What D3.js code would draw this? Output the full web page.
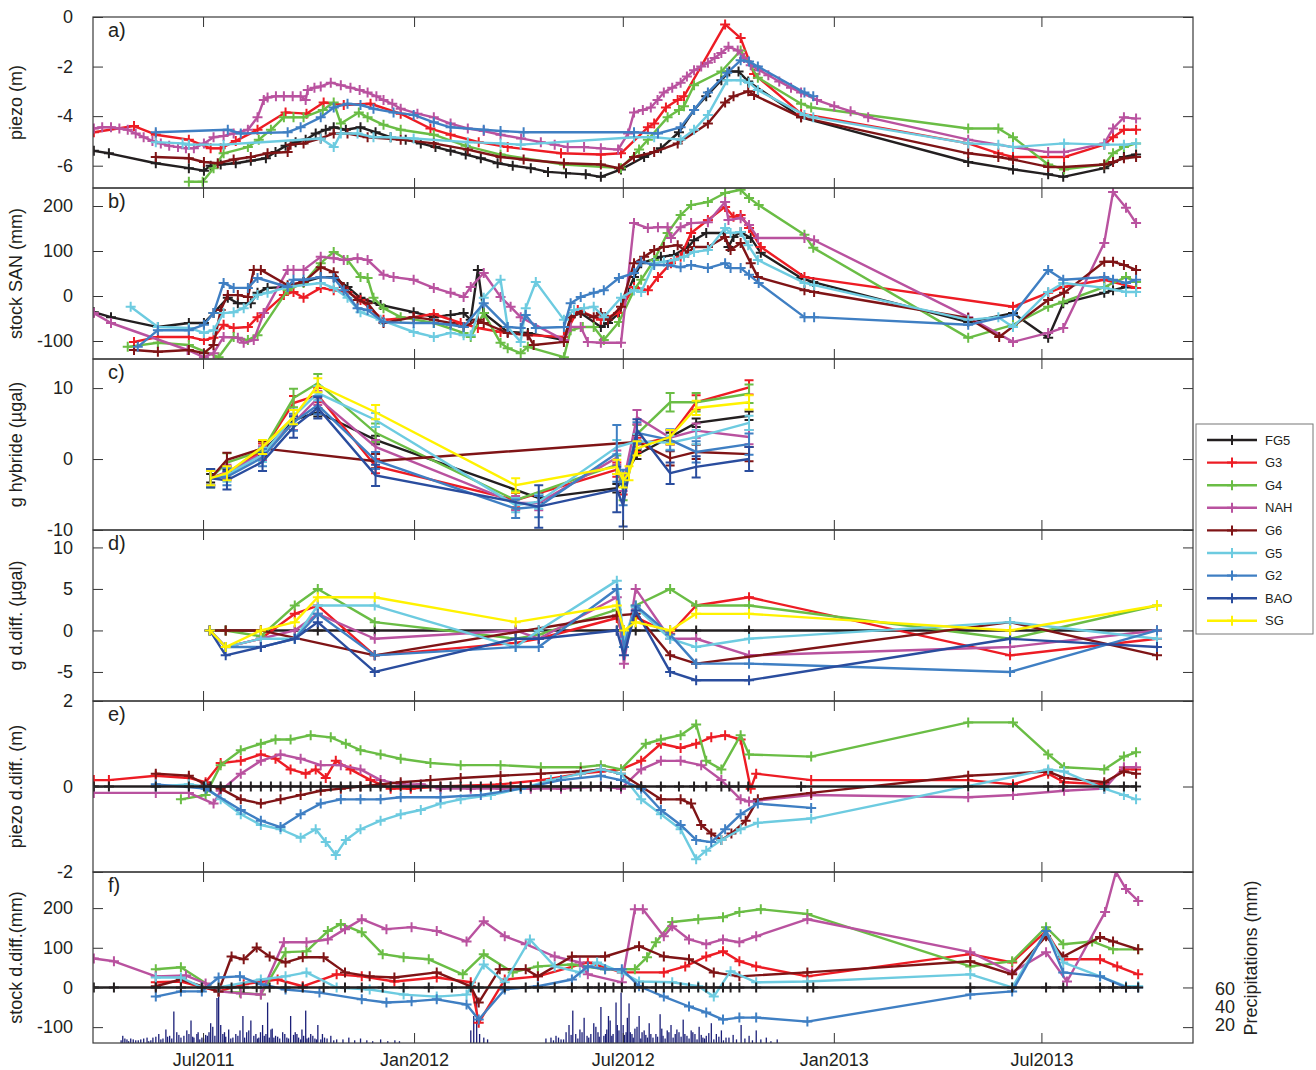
<!DOCTYPE html>
<html><head><meta charset="utf-8">
<script src="https://cdn.jsdelivr.net/npm/d3@7"></script>
<style>
body{margin:0;background:#fff}
text{font-family:"Liberation Sans",Arial,Helvetica,sans-serif;fill:#231f20}
</style>
</head><body>
<svg id="chart" width="1316" height="1070"></svg>
<script>
// ---------- series identity ----------
const SERIES = ["FG5","G3","G4","NAH","G6","G5","G2","BAO","SG"];
const COLORS = ["#231f20","#ed1c24","#6abd45","#b9529f","#7f1416","#6dcbe0","#3f7fc3","#2a4d9e","#fff200"];
const xTickLabels = ["Jul2011","Jan2012","Jul2012","Jan2013","Jul2013"];

// ---------- a) piezo (m) : [decimal year, value] ----------
const aFG5 = [[2011.235,-5.4],[2011.271,-5.5],[2011.383,-5.9],[2011.462,-6.1],[2011.498,-6.2],[2011.514,-6.0],[2011.538,-5.95],[2011.574,-5.9],[2011.610,-5.8],[2011.646,-5.7],[2011.669,-5.45],[2011.693,-5.2],[2011.717,-5.05],[2011.741,-4.95],[2011.765,-4.7],[2011.789,-4.55],[2011.808,-4.45],[2011.837,-4.55],[2011.872,-4.45],[2011.908,-4.65],[2011.944,-4.85],[2011.980,-4.95],[2012.016,-5.1],[2012.051,-5.25],[2012.087,-5.4],[2012.123,-5.55],[2012.159,-5.7],[2012.199,-5.9],[2012.235,-6.0],[2012.278,-6.1],[2012.319,-6.25],[2012.362,-6.3],[2012.409,-6.35],[2012.445,-6.45],[2012.493,-6.15],[2012.548,-5.65],[2012.588,-5.3],[2012.631,-4.65],[2012.667,-3.75],[2012.696,-3.2],[2012.732,-2.55],[2012.751,-2.2],[2012.773,-2.2],[2012.796,-2.6],[2012.922,-4.05],[2013.321,-5.85],[2013.428,-6.15],[2013.512,-6.35],[2013.548,-6.45],[2013.646,-6.1],[2013.693,-5.65],[2013.722,-5.55]];
const aG3 = [[2011.235,-4.65],[2011.331,-4.4],[2011.383,-4.75],[2011.462,-4.95],[2011.514,-5.3],[2011.538,-5.3],[2011.574,-5.0],[2011.626,-4.55],[2011.693,-3.85],[2011.743,-3.9],[2011.784,-3.45],[2011.832,-3.55],[2011.896,-3.5],[2011.968,-3.9],[2012.039,-4.5],[2012.087,-4.75],[2012.154,-5.05],[2012.223,-5.25],[2012.350,-5.5],[2012.445,-5.55],[2012.493,-5.5],[2012.557,-4.45],[2012.572,-4.3],[2012.600,-3.65],[2012.628,-3.35],[2012.643,-3.2],[2012.741,-0.3],[2012.778,-0.85],[2012.810,-2.3],[2012.922,-3.9],[2013.321,-5.1],[2013.393,-5.5],[2013.428,-5.65],[2013.550,-5.65],[2013.646,-5.15],[2013.667,-4.85],[2013.693,-4.55],[2013.722,-4.55]];
const aG4 = [[2011.462,-6.65],[2011.495,-6.65],[2011.521,-6.1],[2011.545,-5.5],[2011.603,-5.25],[2011.629,-4.95],[2011.658,-4.55],[2011.689,-4.05],[2011.712,-4.05],[2011.736,-4.05],[2011.782,-3.75],[2011.808,-3.45],[2011.825,-4.3],[2011.868,-3.85],[2011.889,-4.05],[2011.927,-4.35],[2011.968,-4.55],[2012.047,-4.75],[2012.123,-5.2],[2012.206,-5.55],[2012.357,-5.95],[2012.493,-6.1],[2012.536,-5.35],[2012.557,-4.95],[2012.604,-4.05],[2012.631,-3.75],[2012.643,-3.6],[2012.667,-2.75],[2012.732,-2.2],[2012.778,-1.35],[2012.819,-2.45],[2012.922,-3.5],[2012.946,-3.65],[2013.321,-4.5],[2013.393,-4.5],[2013.428,-4.85],[2013.512,-5.95],[2013.550,-6.15],[2013.646,-5.95],[2013.667,-5.5],[2013.693,-5.25],[2013.722,-5.1]];
const aNAH = [[2011.235,-4.5],[2011.255,-4.45],[2011.276,-4.45],[2011.296,-4.5],[2011.316,-4.55],[2011.335,-4.7],[2011.354,-4.85],[2011.375,-5.0],[2011.395,-5.1],[2011.415,-5.2],[2011.436,-5.25],[2011.455,-5.3],[2011.474,-5.3],[2011.498,-5.1],[2011.521,-4.85],[2011.545,-4.8],[2011.569,-4.7],[2011.603,-4.55],[2011.626,-4.05],[2011.641,-3.35],[2011.650,-3.25],[2011.670,-3.2],[2011.689,-3.2],[2011.710,-3.2],[2011.729,-3.2],[2011.741,-3.35],[2011.746,-2.95],[2011.762,-2.85],[2011.777,-2.8],[2011.801,-2.65],[2011.825,-2.75],[2011.848,-2.85],[2011.870,-2.95],[2011.889,-3.05],[2011.910,-3.2],[2011.927,-3.35],[2011.948,-3.5],[2011.968,-3.7],[2012.008,-3.9],[2012.047,-4.05],[2012.087,-4.3],[2012.128,-4.5],[2012.166,-4.6],[2012.206,-4.75],[2012.255,-4.9],[2012.302,-5.05],[2012.335,-5.15],[2012.366,-5.25],[2012.405,-5.25],[2012.445,-5.3],[2012.486,-5.35],[2012.510,-4.7],[2012.524,-3.85],[2012.545,-3.75],[2012.564,-3.65],[2012.580,-3.35],[2012.595,-3.05],[2012.615,-2.85],[2012.635,-2.65],[2012.650,-2.4],[2012.667,-2.15],[2012.684,-2.0],[2012.700,-1.85],[2012.716,-1.65],[2012.732,-1.45],[2012.749,-1.2],[2012.771,-1.35],[2012.786,-1.65],[2012.802,-1.95],[2012.823,-2.15],[2012.844,-2.35],[2012.870,-2.6],[2012.898,-2.85],[2012.922,-3.05],[2012.960,-3.35],[2013.001,-3.6],[2013.040,-3.8],[2013.082,-4.05],[2013.321,-4.95],[2013.428,-5.25],[2013.512,-5.45],[2013.550,-5.45],[2013.646,-5.1],[2013.667,-4.5],[2013.693,-4.05],[2013.722,-4.1]];
const aG6 = [[2011.383,-5.65],[2011.462,-5.7],[2011.498,-5.85],[2011.531,-5.9],[2011.569,-5.75],[2011.610,-5.65],[2011.650,-5.5],[2011.698,-5.45],[2011.705,-5.15],[2011.736,-5.1],[2011.777,-4.9],[2011.808,-4.7],[2011.841,-4.7],[2011.889,-4.85],[2011.968,-4.95],[2012.047,-5.1],[2012.128,-5.35],[2012.206,-5.65],[2012.261,-5.75],[2012.357,-5.9],[2012.445,-5.95],[2012.488,-6.1],[2012.524,-5.65],[2012.572,-5.45],[2012.628,-5.1],[2012.700,-4.3],[2012.741,-3.45],[2012.761,-3.2],[2012.796,-3.0],[2012.810,-3.15],[2012.922,-4.05],[2013.321,-5.5],[2013.393,-5.65],[2013.428,-5.75],[2013.512,-6.05],[2013.550,-6.05],[2013.646,-5.95],[2013.667,-5.85],[2013.693,-5.7],[2013.722,-5.65]];
const aG5 = [[2011.383,-5.05],[2011.447,-5.1],[2011.462,-5.15],[2011.545,-5.15],[2011.777,-4.9],[2011.808,-5.25],[2011.825,-4.7],[2011.865,-4.7],[2011.903,-4.85],[2011.944,-4.85],[2011.999,-4.9],[2012.128,-5.05],[2012.206,-5.1],[2012.254,-5.15],[2012.524,-4.85],[2012.572,-4.85],[2012.635,-4.95],[2012.667,-4.55],[2012.700,-3.95],[2012.746,-2.55],[2012.778,-2.55],[2012.798,-2.65],[2012.819,-2.95],[2012.930,-3.95],[2012.951,-4.05],[2013.321,-5.1],[2013.393,-5.15],[2013.428,-5.25],[2013.550,-5.1],[2013.646,-5.15],[2013.693,-5.15],[2013.722,-5.1]];
const aG2 = [[2011.383,-4.65],[2011.555,-4.55],[2011.586,-4.7],[2011.698,-4.65],[2011.729,-4.45],[2011.777,-4.05],[2011.808,-3.65],[2011.841,-3.5],[2011.872,-3.55],[2011.903,-3.7],[2011.951,-3.85],[2011.999,-3.95],[2012.047,-4.25],[2012.087,-4.45],[2012.166,-4.55],[2012.206,-4.6],[2012.261,-4.65],[2012.524,-4.65],[2012.581,-4.7],[2012.635,-4.45],[2012.667,-3.75],[2012.700,-3.05],[2012.746,-2.25],[2012.778,-1.75],[2012.798,-1.8],[2012.819,-2.0],[2012.930,-3.05],[2012.951,-3.2]];

// ---------- b) stock SAN (mm) ----------
const bFG5 = [[2011.235,-36],[2011.276,-47],[2011.388,-69],[2011.462,-60],[2011.498,-60],[2011.521,-38],[2011.555,-4],[2011.579,-16],[2011.610,-16],[2011.626,7],[2011.650,18],[2011.698,20],[2011.736,31],[2011.777,42],[2011.808,42],[2011.841,20],[2011.872,-4],[2011.920,-20],[2011.999,-36],[2012.047,-47],[2012.087,-42],[2012.118,-38],[2012.135,-53],[2012.152,58],[2012.166,-38],[2012.223,-80],[2012.271,-82],[2012.357,-98],[2012.373,-47],[2012.397,-38],[2012.445,-69],[2012.462,-60],[2012.488,-38],[2012.524,42],[2012.541,73],[2012.588,87],[2012.619,91],[2012.653,109],[2012.667,124],[2012.696,140],[2012.738,140],[2012.749,109],[2012.761,131],[2012.778,142],[2012.802,129],[2012.826,96],[2012.922,40],[2012.951,31],[2013.321,-58],[2013.428,-38],[2013.512,-93],[2013.548,-16],[2013.646,7],[2013.667,13],[2013.698,20],[2013.722,18]];
const bG3 = [[2011.331,-102],[2011.388,-91],[2011.462,-91],[2011.498,-98],[2011.521,-93],[2011.545,-64],[2011.569,-71],[2011.603,-69],[2011.626,-47],[2011.641,-38],[2011.689,2],[2011.712,9],[2011.736,-4],[2011.777,18],[2011.808,13],[2011.841,9],[2011.872,-9],[2011.927,-53],[2011.999,-47],[2012.047,-40],[2012.111,-60],[2012.152,-71],[2012.206,-80],[2012.271,-87],[2012.357,-91],[2012.390,-31],[2012.445,-53],[2012.486,-38],[2012.524,20],[2012.557,13],[2012.581,42],[2012.612,73],[2012.635,87],[2012.660,140],[2012.700,169],[2012.741,198],[2012.761,176],[2012.778,180],[2012.798,151],[2012.826,109],[2012.930,42],[2013.428,-24],[2013.512,7],[2013.548,20],[2013.646,36],[2013.722,18]];
const bG4 = [[2011.316,-113],[2011.388,-104],[2011.462,-109],[2011.533,-136],[2011.569,-91],[2011.603,-98],[2011.626,-87],[2011.698,13],[2011.736,29],[2011.777,73],[2011.808,98],[2011.841,80],[2011.872,42],[2011.889,40],[2011.903,-4],[2011.927,-27],[2011.968,-47],[2012.047,-60],[2012.118,-82],[2012.135,-91],[2012.166,-38],[2012.206,-104],[2012.223,-116],[2012.254,-127],[2012.271,-113],[2012.357,-136],[2012.373,-76],[2012.402,-69],[2012.428,-69],[2012.452,-98],[2012.488,-58],[2012.524,13],[2012.541,36],[2012.572,80],[2012.604,140],[2012.635,180],[2012.660,202],[2012.700,209],[2012.741,229],[2012.778,236],[2012.798,218],[2012.821,202],[2012.930,136],[2012.951,107],[2013.321,-93],[2013.428,-64],[2013.512,-24],[2013.548,-13],[2013.646,20],[2013.698,42],[2013.722,31]];
const bNAH = [[2011.235,-38],[2011.276,-60],[2011.459,-120],[2011.498,-136],[2011.521,-127],[2011.545,-91],[2011.579,-93],[2011.593,-104],[2011.617,-98],[2011.641,-38],[2011.698,58],[2011.712,58],[2011.736,58],[2011.777,87],[2011.808,84],[2011.832,80],[2011.865,84],[2011.889,80],[2011.927,47],[2011.951,42],[2011.999,36],[2012.047,18],[2012.087,7],[2012.118,-2],[2012.135,20],[2012.166,51],[2012.206,-2],[2012.230,-24],[2012.254,-47],[2012.357,-98],[2012.373,-69],[2012.397,-69],[2012.414,-102],[2012.445,-104],[2012.493,-104],[2012.524,162],[2012.557,151],[2012.581,153],[2012.604,153],[2012.612,129],[2012.635,153],[2012.660,162],[2012.700,164],[2012.741,209],[2012.749,169],[2012.778,173],[2012.798,158],[2012.819,129],[2012.930,129],[2012.953,124],[2013.321,-47],[2013.428,-102],[2013.512,-82],[2013.548,-71],[2013.646,118],[2013.667,231],[2013.698,196],[2013.722,162]];
const bG6 = [[2011.331,-120],[2011.388,-124],[2011.462,-120],[2011.498,-127],[2011.521,-109],[2011.538,-31],[2011.555,2],[2011.579,2],[2011.603,-2],[2011.617,58],[2011.634,58],[2011.698,24],[2011.736,31],[2011.777,64],[2011.808,53],[2011.832,20],[2011.865,-9],[2011.889,-16],[2011.927,-60],[2011.999,-47],[2012.047,-53],[2012.087,-60],[2012.118,-69],[2012.152,-53],[2012.166,-60],[2012.223,-82],[2012.271,-87],[2012.285,-109],[2012.357,-102],[2012.373,-47],[2012.397,-36],[2012.428,-47],[2012.445,-38],[2012.462,-53],[2012.493,-24],[2012.524,73],[2012.548,87],[2012.572,102],[2012.595,109],[2012.628,113],[2012.653,96],[2012.667,109],[2012.700,109],[2012.741,131],[2012.754,102],[2012.778,118],[2012.802,73],[2012.819,42],[2012.930,13],[2012.953,9],[2013.321,-49],[2013.395,-91],[2013.512,-9],[2013.550,7],[2013.646,76],[2013.667,76],[2013.693,69],[2013.722,58]];
const bG5 = [[2011.323,-24],[2011.388,-69],[2011.462,-71],[2011.498,-82],[2011.521,-76],[2011.545,-38],[2011.569,-36],[2011.593,-27],[2011.626,2],[2011.650,7],[2011.698,20],[2011.777,29],[2011.808,18],[2011.841,-4],[2011.872,-36],[2011.920,-53],[2011.999,-80],[2012.047,-91],[2012.087,-82],[2012.118,-87],[2012.135,-87],[2012.166,-4],[2012.206,36],[2012.223,-69],[2012.254,-102],[2012.266,-27],[2012.290,31],[2012.357,-53],[2012.381,-31],[2012.405,-27],[2012.428,-24],[2012.452,-47],[2012.493,-4],[2012.524,13],[2012.541,9],[2012.572,73],[2012.595,76],[2012.619,80],[2012.643,87],[2012.667,98],[2012.700,102],[2012.741,151],[2012.754,140],[2012.778,142],[2012.796,113],[2012.819,80],[2012.930,29],[2012.953,24],[2013.321,-53],[2013.393,-47],[2013.428,-69],[2013.512,9],[2013.548,29],[2013.646,18],[2013.698,9],[2013.722,9]];
const bG2 = [[2011.340,-113],[2011.388,-76],[2011.462,-76],[2011.498,-64],[2011.521,-38],[2011.545,29],[2011.569,18],[2011.603,18],[2011.626,40],[2011.698,20],[2011.712,36],[2011.736,36],[2011.777,42],[2011.808,40],[2011.832,13],[2011.865,-27],[2011.889,-31],[2011.927,-58],[2011.999,-60],[2012.047,-60],[2012.087,-64],[2012.118,-69],[2012.166,-16],[2012.223,-69],[2012.254,-71],[2012.266,-42],[2012.290,-71],[2012.357,-69],[2012.373,-16],[2012.397,-2],[2012.428,7],[2012.452,13],[2012.488,40],[2012.524,51],[2012.541,76],[2012.572,69],[2012.604,69],[2012.635,64],[2012.660,69],[2012.700,62],[2012.741,73],[2012.754,62],[2012.778,62],[2012.798,47],[2012.821,29],[2012.930,-47],[2012.953,-47],[2013.321,-64],[2013.428,-42],[2013.512,58],[2013.548,36],[2013.646,42],[2013.667,36],[2013.698,29],[2013.722,36]];

// ---------- c) g hybride (µgal) : campaign dates + values per series ----------
const cDates = [2011.514,2011.553,2011.638,2011.712,2011.770,2011.908,2012.242,2012.297,2012.483,2012.498,2012.512,2012.531,2012.610,2012.672,2012.798];
const cFG5 = [-2.7,-2.0,1.0,5.5,6.6,2.7,null,-5.5,-4.1,null,null,0.6,3.1,5.1,6.1];
const cG3  = [-2.7,-2.0,1.2,7.9,9.0,-1.0,-5.8,null,-1.5,-4.0,null,2.0,3.1,8.0,10.1];
const cG4  = [-2.7,-0.5,1.2,8.6,10.7,3.7,-5.8,null,-0.8,-4.5,null,3.5,8.0,8.0,9.2];
const cNAH = [-2.7,-1.8,0.8,5.1,8.6,1.7,-6.2,-6.2,0.2,-3.5,null,5.9,3.0,4.0,3.1];
const cG6  = [-2.7,-0.1,1.5,null,null,-0.3,null,null,null,null,null,2.4,0.1,1.0,0.7];
const cG5  = [-2.7,-2.2,0.6,6.0,9.3,5.5,-6.5,-6.0,1.7,null,null,2.5,2.3,3.1,5.1];
const cG2  = [-2.7,-2.5,0.2,5.2,7.6,-0.2,-7.0,-6.7,0.8,-4.0,null,3.7,2.7,1.0,2.1];
const cBAO = [-2.7,-3.0,-0.4,4.5,7.2,-2.3,null,-6.7,-4.3,-6.5,null,4.1,-2.0,-1.1,0.0];
const cSG  = [-2.7,-2.0,1.7,5.9,10.4,6.6,-3.7,null,-1.1,-3.0,-2.0,1.5,3.1,7.2,8.0];
const cErr = [0.6,1.0,1.3,1.0,1.0,1.0,1.3,1.6,1.0];
const cErrG2  = [1.2,1.2,1.2,1.2,1.3,1.2,1.3,1.5,4.0,2.5,null,1.5,1.5,1.5,1.5];
const cErrBAO = [1.3,1.3,1.3,1.5,1.5,1.5,null,3.0,3.2,3.0,null,1.5,1.5,1.5,1.7];

// ---------- d) g d.diff. (µgal) ----------
const dDates = [2011.512,2011.550,2011.634,2011.715,2011.770,2011.906,2012.242,2012.297,2012.483,2012.500,2012.528,2012.610,2012.672,2012.798,2013.421,2013.772];
const dFG5 = [0,0,0,0,0,0,0,0,0,0,0,0,0,0,0,0];
const dG3  = [0,-2,-1,2,3,-3,-1.5,-1,1.5,-1,1.6,-0.4,3,4,-3,-1];
const dG4  = [0,0,-0.7,3,5,1,-1,-0.5,2.5,-2,3,5,3,3,-1,3];
const dNAH = [0,-2,-1,0,2,-1,0,-1,4,-4,5,-1,-1,-3,-2,0];
const dG6  = [0,0,0,null,null,-3,null,null,1.8,null,2,-3,-4,null,1,-3];
const dG5  = [0,-2,-1,-1,3,3,-2,0,6,-1,2.8,-1,-2,-1,1,-1];
const dG2  = [0,-2,-2,-1,2,-3,-2,-2,5,-2,3,-0.5,-4,-4,-5,0];
const dBAO = [0,-3,-2,-1,1,-5,-1,-1,0,-3,2.4,-5,-6,-6,-1,-2];
const dSG  = [0,-2,0,1,4,4,1,null,3,0,1,0,2,2,0,3];

// ---------- e) piezo d.diff. (m) ----------
const eFG5Dates = [2011.235,2011.271,2011.383,2011.462,2011.498,2011.514,2011.538,2011.562,2011.586,2011.610,2011.634,2011.658,2011.681,2011.705,2011.729,2011.753,2011.777,2011.801,2011.825,2011.848,2011.872,2011.896,2011.920,2011.944,2011.968,2011.992,2012.016,2012.039,2012.063,2012.087,2012.111,2012.135,2012.159,2012.183,2012.206,2012.230,2012.254,2012.278,2012.302,2012.326,2012.350,2012.373,2012.397,2012.421,2012.445,2012.469,2012.493,2012.541,2012.588,2012.631,2012.667,2012.696,2012.732,2012.751,2012.773,2012.796,2012.922,2013.321,2013.428,2013.512,2013.548,2013.646,2013.693,2013.722];
const eG3 = [[2011.235,0.15],[2011.271,0.15],[2011.383,0.25],[2011.462,0.2],[2011.502,0.1],[2011.538,0.55],[2011.586,0.6],[2011.634,0.75],[2011.669,0.65],[2011.705,0.4],[2011.741,0.3],[2011.765,0.4],[2011.789,0.2],[2011.813,0.6],[2011.848,0.4],[2011.896,0.15],[2011.944,-0.05],[2011.992,-0.05],[2012.063,0.0],[2012.206,0.05],[2012.302,0.15],[2012.397,0.3],[2012.445,0.35],[2012.493,0.4],[2012.541,0.6],[2012.588,1.0],[2012.635,0.9],[2012.672,1.0],[2012.708,1.15],[2012.741,1.2],[2012.778,1.1],[2012.802,-0.05],[2012.815,0.3],[2012.946,0.15],[2013.321,0.15],[2013.428,0.05],[2013.512,0.3],[2013.550,0.1],[2013.646,0.05],[2013.693,0.4],[2013.722,0.4]];
const eG4 = [[2011.443,-0.3],[2011.502,-0.2],[2011.538,0.5],[2011.586,0.85],[2011.634,1.0],[2011.669,1.1],[2011.705,1.1],[2011.753,1.2],[2011.801,1.15],[2011.837,1.0],[2011.872,0.85],[2011.920,0.75],[2011.968,0.65],[2012.039,0.55],[2012.111,0.5],[2012.206,0.5],[2012.302,0.45],[2012.397,0.45],[2012.445,0.5],[2012.493,0.4],[2012.552,1.0],[2012.588,1.1],[2012.635,1.2],[2012.672,1.45],[2012.696,0.6],[2012.732,0.4],[2012.778,1.2],[2012.798,0.75],[2012.946,0.7],[2013.321,1.5],[2013.428,1.5],[2013.512,0.75],[2013.550,0.45],[2013.646,0.4],[2013.693,0.7],[2013.722,0.8]];
const eNAH = [[2011.235,-0.15],[2011.383,-0.15],[2011.462,-0.15],[2011.521,-0.4],[2011.538,-0.1],[2011.586,0.3],[2011.634,0.6],[2011.681,0.75],[2011.729,0.65],[2011.777,0.5],[2011.825,0.5],[2011.872,0.4],[2011.920,0.15],[2011.968,0.05],[2012.016,0.05],[2012.063,-0.05],[2012.135,-0.05],[2012.206,-0.05],[2012.278,-0.05],[2012.350,-0.05],[2012.445,0.0],[2012.493,-0.05],[2012.541,0.4],[2012.588,0.6],[2012.635,0.6],[2012.684,0.5],[2012.732,0.15],[2012.778,-0.3],[2012.798,-0.35],[2012.946,-0.2],[2013.321,-0.25],[2013.428,-0.2],[2013.550,-0.1],[2013.646,-0.05],[2013.693,0.45],[2013.722,0.45]];
const eG6 = [[2011.383,0.3],[2011.462,0.25],[2011.502,0.05],[2011.538,-0.05],[2011.586,-0.3],[2011.634,-0.4],[2011.681,-0.3],[2011.729,-0.2],[2011.777,-0.1],[2011.825,-0.05],[2011.872,0.0],[2011.920,0.05],[2011.968,0.1],[2012.039,0.15],[2012.111,0.2],[2012.206,0.25],[2012.302,0.3],[2012.397,0.35],[2012.445,0.4],[2012.493,0.3],[2012.541,0.0],[2012.588,-0.3],[2012.635,-0.3],[2012.660,-0.4],[2012.684,-0.9],[2012.708,-1.1],[2012.732,-1.25],[2012.756,-1.1],[2012.790,-0.8],[2012.819,-0.3],[2012.946,-0.15],[2013.321,0.25],[2013.512,0.35],[2013.550,0.2],[2013.646,0.1],[2013.693,0.35],[2013.722,0.3]];
const eG5 = [[2011.383,0.0],[2011.462,0.05],[2011.502,0.0],[2011.538,-0.3],[2011.586,-0.65],[2011.634,-0.9],[2011.681,-1.0],[2011.729,-1.2],[2011.765,-1.0],[2011.789,-1.3],[2011.813,-1.6],[2011.837,-1.25],[2011.872,-1.0],[2011.920,-0.8],[2011.968,-0.65],[2012.016,-0.55],[2012.063,-0.4],[2012.111,-0.3],[2012.183,-0.2],[2012.254,-0.05],[2012.326,0.15],[2012.397,0.3],[2012.445,0.4],[2012.493,0.3],[2012.541,-0.3],[2012.588,-0.65],[2012.635,-1.0],[2012.672,-1.7],[2012.696,-1.5],[2012.732,-1.25],[2012.778,-1.0],[2012.819,-0.85],[2012.946,-0.75],[2013.512,0.4],[2013.550,0.35],[2013.646,-0.05],[2013.693,-0.2],[2013.722,-0.3]];
const eG2 = [[2011.383,0.05],[2011.502,-0.05],[2011.586,-0.55],[2011.634,-0.8],[2011.681,-0.95],[2011.729,-0.65],[2011.777,-0.4],[2011.825,-0.3],[2011.872,-0.3],[2011.920,-0.3],[2011.968,-0.25],[2012.063,-0.25],[2012.159,-0.2],[2012.254,-0.05],[2012.350,0.15],[2012.445,0.25],[2012.493,0.15],[2012.541,-0.05],[2012.588,-0.55],[2012.635,-0.9],[2012.672,-1.25],[2012.708,-1.3],[2012.741,-1.0],[2012.778,-0.65],[2012.819,-0.4],[2012.946,-0.5]];

// ---------- f) stock d.diff. (mm) ----------
const fFG5Dates = [2011.235,2011.283,2011.383,2011.443,2011.493,2011.533,2011.564,2011.593,2011.624,2011.655,2011.693,2011.734,2011.784,2011.835,2011.875,2011.925,2011.975,2012.035,2012.090,2012.135,2012.154,2012.216,2012.266,2012.295,2012.335,2012.376,2012.414,2012.440,2012.455,2012.475,2012.495,2012.526,2012.545,2012.576,2012.595,2012.615,2012.635,2012.655,2012.677,2012.696,2012.714,2012.736,2012.754,2012.775,2012.815,2012.937,2012.951,2013.326,2013.426,2013.507,2013.548,2013.636,2013.667,2013.698,2013.727];
const fG3 = [[2011.383,13],[2011.443,15],[2011.533,-10],[2011.593,8],[2011.674,20],[2011.734,3],[2011.815,33],[2011.875,28],[2011.953,15],[2012.054,25],[2012.135,13],[2012.154,-89],[2012.216,20],[2012.295,28],[2012.414,63],[2012.495,38],[2012.595,38],[2012.646,53],[2012.696,78],[2012.736,91],[2012.775,66],[2012.815,53],[2012.937,28],[2013.326,84],[2013.426,63],[2013.507,142],[2013.548,71],[2013.636,71],[2013.677,53],[2013.727,33]];
const fG4 = [[2011.383,46],[2011.443,51],[2011.533,-10],[2011.584,-13],[2011.634,-18],[2011.693,89],[2011.743,91],[2011.794,142],[2011.825,160],[2011.875,139],[2011.925,84],[2011.975,76],[2012.035,71],[2012.116,33],[2012.166,84],[2012.235,38],[2012.295,53],[2012.376,58],[2012.455,46],[2012.526,46],[2012.555,76],[2012.576,114],[2012.615,165],[2012.677,172],[2012.736,177],[2012.775,190],[2012.826,197],[2012.937,185],[2013.326,53],[2013.426,66],[2013.507,152],[2013.548,109],[2013.617,116],[2013.667,96],[2013.727,96]];
const fNAH = [[2011.235,73],[2011.283,66],[2011.383,28],[2011.455,30],[2011.502,10],[2011.533,-10],[2011.586,-15],[2011.634,-18],[2011.689,114],[2011.743,114],[2011.794,121],[2011.835,147],[2011.875,172],[2011.934,147],[2011.994,152],[2012.054,142],[2012.125,116],[2012.166,167],[2012.216,129],[2012.266,109],[2012.335,78],[2012.395,63],[2012.414,33],[2012.495,13],[2012.526,197],[2012.545,197],[2012.595,129],[2012.615,154],[2012.655,121],[2012.696,109],[2012.736,121],[2012.775,114],[2012.815,129],[2012.937,172],[2013.326,89],[2013.426,38],[2013.507,89],[2013.557,15],[2013.648,190],[2013.674,291],[2013.698,248],[2013.727,218]];
const fG6 = [[2011.383,3],[2011.443,20],[2011.533,-10],[2011.564,78],[2011.593,71],[2011.624,101],[2011.655,78],[2011.693,63],[2011.734,76],[2011.784,76],[2011.835,38],[2011.894,28],[2011.953,25],[2012.054,38],[2012.135,3],[2012.154,-38],[2012.204,46],[2012.266,46],[2012.295,28],[2012.376,78],[2012.455,78],[2012.536,104],[2012.595,78],[2012.655,71],[2012.714,38],[2012.775,28],[2012.937,38],[2013.326,66],[2013.426,33],[2013.507,129],[2013.548,78],[2013.636,127],[2013.667,116],[2013.727,96]];
const fG5 = [[2011.383,25],[2011.443,25],[2011.493,0],[2011.533,0],[2011.634,20],[2011.693,28],[2011.743,38],[2011.815,0],[2011.894,-5],[2011.975,-18],[2012.054,-23],[2012.125,-18],[2012.166,58],[2012.216,13],[2012.276,121],[2012.335,53],[2012.395,38],[2012.436,63],[2012.495,38],[2012.536,15],[2012.615,13],[2012.677,3],[2012.714,-23],[2012.754,41],[2012.815,13],[2012.937,15],[2013.326,33],[2013.426,0],[2013.507,142],[2013.548,63],[2013.636,28],[2013.698,3],[2013.727,3]];
const fG2 = [[2011.383,-23],[2011.443,-10],[2011.493,-10],[2011.533,25],[2011.584,28],[2011.634,8],[2011.693,-5],[2011.774,-13],[2011.875,-30],[2011.934,-38],[2011.994,-35],[2012.054,-30],[2012.125,-43],[2012.154,-81],[2012.216,-5],[2012.295,3],[2012.376,20],[2012.414,53],[2012.455,46],[2012.495,46],[2012.536,3],[2012.595,-23],[2012.655,-48],[2012.696,-63],[2012.736,-81],[2012.775,-76],[2012.815,-76],[2012.937,-86],[2013.326,-18],[2013.426,-10],[2013.507,142],[2013.548,38],[2013.636,28],[2013.698,0],[2013.727,0]];

// ---------- daily precipitation (mm) : [decimal year, mm] ----------
const precip = [
[2011.300,3],[2011.304,8],[2011.309,5],[2011.314,4],[2011.318,2],[2011.323,5],[2011.329,4],[2011.335,3],[2011.341,3],[2011.347,4],[2011.354,5],[2011.362,6],[2011.366,2],[2011.371,3],[2011.376,6],[2011.383,7],[2011.390,10],[2011.395,4],[2011.400,5],[2011.407,15],[2011.411,7],[2011.416,8],[2011.421,5],[2011.426,35],[2011.433,12],[2011.438,9],[2011.443,6],[2011.450,8],[2011.457,14],[2011.462,10],[2011.467,25],[2011.471,7],[2011.474,6],[2011.481,10],[2011.484,12],[2011.488,4],[2011.493,6],[2011.497,5],[2011.502,9],[2011.506,8],[2011.510,12],[2011.514,22],[2011.519,18],[2011.524,8],[2011.529,50],[2011.533,56],[2011.538,20],[2011.543,10],[2011.547,12],[2011.550,7],[2011.557,15],[2011.562,5],[2011.567,6],[2011.574,10],[2011.579,8],[2011.584,14],[2011.591,30],[2011.595,6],[2011.600,12],[2011.605,14],[2011.610,25],[2011.617,8],[2011.622,10],[2011.626,5],[2011.629,6],[2011.633,12],[2011.638,20],[2011.642,8],[2011.646,10],[2011.650,45],[2011.654,6],[2011.658,15],[2011.661,16],[2011.665,6],[2011.669,8],[2011.674,7],[2011.679,5],[2011.686,12],[2011.691,10],[2011.696,6],[2011.700,5],[2011.705,30],[2011.712,9],[2011.716,12],[2011.720,10],[2011.724,6],[2011.729,4],[2011.732,15],[2011.736,8],[2011.741,36],[2011.744,5],[2011.748,6],[2011.753,10],[2011.758,8],[2011.763,5],[2011.767,4],[2011.770,20],[2011.777,4],[2011.781,10],[2011.786,6],[2011.792,5],[2011.801,8],[2011.808,3],[2011.815,4],[2011.830,4],[2011.844,6],[2011.858,3],[2011.872,5],[2011.887,3],[2011.901,2],[2011.920,4],[2011.937,2],[2011.954,3],[2011.965,2],
[2012.135,14],[2012.142,30],[2012.149,52],[2012.156,10],[2012.166,6],[2012.175,4],
[2012.314,5],[2012.326,6],[2012.332,3],[2012.338,8],[2012.344,6],[2012.350,4],[2012.356,4],[2012.362,12],[2012.369,20],[2012.374,9],[2012.378,36],[2012.385,10],[2012.390,5],[2012.395,15],[2012.400,12],[2012.405,28],[2012.412,8],[2012.416,6],[2012.421,10],[2012.428,22],[2012.433,18],[2012.438,12],[2012.441,7],[2012.445,40],[2012.452,8],[2012.456,10],[2012.459,15],[2012.463,30],[2012.467,25],[2012.471,8],[2012.474,10],[2012.481,45],[2012.484,20],[2012.488,14],[2012.493,56],[2012.498,20],[2012.501,9],[2012.505,12],[2012.508,28],[2012.512,44],[2012.515,12],[2012.519,10],[2012.522,6],[2012.526,16],[2012.531,18],[2012.536,30],[2012.540,5],[2012.543,12],[2012.548,14],[2012.552,9],[2012.556,6],[2012.560,22],[2012.564,10],[2012.569,6],[2012.576,10],[2012.580,7],[2012.586,32],[2012.590,16],[2012.593,8],[2012.598,5],[2012.603,14],[2012.607,12],[2012.612,20],[2012.617,6],[2012.622,10],[2012.626,15],[2012.631,12],[2012.636,7],[2012.641,26],[2012.645,10],[2012.650,8],[2012.655,5],[2012.660,14],[2012.664,12],[2012.669,10],[2012.674,4],[2012.679,18],[2012.684,9],[2012.688,6],[2012.692,5],[2012.696,8],[2012.702,11],[2012.708,22],[2012.714,4],[2012.720,10],[2012.726,7],[2012.732,14],[2012.737,3],[2012.743,6],[2012.750,6],[2012.760,9],[2012.768,4],[2012.779,20],[2012.788,5],[2012.798,8],[2012.806,3],[2012.815,14],[2012.826,4],[2012.839,6],[2012.850,2],[2012.865,4]
];

// ---------- layout ----------
const svg = d3.select("#chart");
const L = 93, R = 1193;
const tops = [17,188,359,530,701,872], BOTTOM = 1043;

function toDate(y){ const yr=Math.floor(y); const s=Date.UTC(yr,0,1), e=Date.UTC(yr+1,0,1); return new Date(s+(y-yr)*(e-s)); }
const x = d3.scaleUtc().domain([toDate(2011.233), toDate(2013.858)]).range([L,R]);
const xTicks = [new Date(Date.UTC(2011,6,1)),new Date(Date.UTC(2012,0,1)),new Date(Date.UTC(2012,6,1)),new Date(Date.UTC(2013,0,1)),new Date(Date.UTC(2013,6,1))];

const panels = [
  {lab:"a)", title:"piezo (m)", dom:[-6.9,0], ticks:[0,-2,-4,-6]},
  {lab:"b)", title:"stock SAN (mm)", dom:[-140,240], ticks:[200,100,0,-100]},
  {lab:"c)", title:"g hybride (µgal)", dom:[-10,14.1], ticks:[10,0,-10]},
  {lab:"d)", title:"g d.diff. (µgal)", dom:[-8.5,12.1], ticks:[10,5,0,-5]},
  {lab:"e)", title:"piezo d.diff. (m)", dom:[-2,2], ticks:[2,0,-2]},
  {lab:"f)", title:"stock d.diff.(mm)", dom:[-140,291], ticks:[200,100,0,-100]}
];
panels.forEach((p,i)=>{
  p.top = tops[i]; p.bot = i<5 ? tops[i+1] : BOTTOM;
  p.y = d3.scaleLinear().domain(p.dom).range([p.bot,p.top]);
});
const yp = d3.scaleLinear().domain([0,190]).range([BOTTOM,872]);

const defs = svg.append("defs");
panels.forEach((p,i)=>{
  defs.append("clipPath").attr("id","clip"+i).append("rect")
    .attr("x",L).attr("y",p.top).attr("width",R-L).attr("height",p.bot-p.top);
});

function plusPath(pts, ys){
  return pts.map(d=>{const px=x(toDate(d[0])), py=ys(d[1]); return `M${px-5},${py}H${px+5}M${px},${py-5}V${py+5}`;}).join("");
}
function drawSeries(g, ys, data, color){
  const pts = data.filter(d=>d[1]!==null && d[1]!==undefined);
  g.append("path").attr("d", d3.line().x(d=>x(toDate(d[0]))).y(d=>ys(d[1]))(pts))
    .attr("fill","none").attr("stroke",color).attr("stroke-width",2.4).attr("stroke-linejoin","round");
  g.append("path").attr("d", plusPath(pts, ys)).attr("stroke",color).attr("stroke-width",2).attr("fill","none");
}
function zip(dates, vals){ return dates.map((t,i)=>[t, vals[i]]); }

// ---------- panel contents ----------
const layers = panels.map((p,i)=> svg.append("g").attr("clip-path",`url(#clip${i})`));

// f) precipitation bars (behind the curves)
layers[5].selectAll("rect.pr").data(precip).enter().append("rect")
  .attr("x",d=>x(toDate(d[0]))-0.6).attr("width",1.3)
  .attr("y",d=>yp(d[1])).attr("height",d=>BOTTOM-yp(d[1])).attr("fill","#1b1f78");

const aData = [aFG5,aG3,aG4,aNAH,aG6,aG5,aG2];
const bData = [bFG5,bG3,bG4,bNAH,bG6,bG5,bG2];
aData.forEach((d,k)=>drawSeries(layers[0], panels[0].y, d, COLORS[k]));
bData.forEach((d,k)=>drawSeries(layers[1], panels[1].y, d, COLORS[k]));

// c) with error bars
const cData = [cFG5,cG3,cG4,cNAH,cG6,cG5,cG2,cBAO,cSG];
cData.forEach((vals,k)=>{
  const errs = k===6 ? cErrG2 : (k===7 ? cErrBAO : null);
  const pts = cDates.map((t,i)=>[t, vals[i], errs ? errs[i] : cErr[k]]).filter(d=>d[1]!==null);
  const ys = panels[2].y, col = COLORS[k];
  layers[2].append("path").attr("d", d3.line().x(d=>x(toDate(d[0]))).y(d=>ys(d[1]))(pts))
    .attr("fill","none").attr("stroke",col).attr("stroke-width",2.4);
  layers[2].append("path").attr("d", pts.map(d=>{const px=x(toDate(d[0])), e=d[2], y1=ys(d[1]-e), y2=ys(d[1]+e);
      return `M${px},${y1}V${y2}M${px-4.5},${y1}H${px+4.5}M${px-4.5},${y2}H${px+4.5}`;}).join(""))
    .attr("stroke",col).attr("stroke-width",2).attr("fill","none");
});

// d)
const dData = [dFG5,dG3,dG4,dNAH,dG6,dG5,dG2,dBAO,dSG];
dData.forEach((vals,k)=>drawSeries(layers[3], panels[3].y, zip(dDates, vals), COLORS[k]));

// e)  FG5 is the reference station: its difference is zero at each of its dates
const eFG5 = eFG5Dates.map(t=>[t,0]);
const eData = [eFG5,eG3,eG4,eNAH,eG6,eG5,eG2];
[1,2,3,4,5,6,0].forEach(k=>drawSeries(layers[4], panels[4].y, eData[k], COLORS[k]));

// f)
const fFG5 = fFG5Dates.map(t=>[t,0]);
const fData = [fFG5,fG3,fG4,fNAH,fG6,fG5,fG2];
[1,2,3,4,5,6,0].forEach(k=>drawSeries(layers[5], panels[5].y, fData[k], COLORS[k]));

// ---------- axes, frames ----------
const fmt = v => String(v);
panels.forEach((p,i)=>{
  const gL = svg.append("g").attr("transform",`translate(${L},0)`)
    .call(d3.axisLeft(p.y).tickValues(p.ticks).tickSize(-10).tickPadding(20).tickFormat(fmt));
  const gR = svg.append("g").attr("transform",`translate(${R},0)`)
    .call(d3.axisRight(p.y).tickValues(p.ticks).tickSize(-10).tickFormat(""));
  const gT = svg.append("g").attr("transform",`translate(0,${p.top})`)
    .call(d3.axisTop(x).tickValues(xTicks).tickSize(-10).tickFormat(""));
  const gB = svg.append("g").attr("transform",`translate(0,${p.bot})`)
    .call(d3.axisBottom(x).tickValues(xTicks).tickSize(-10).tickPadding(10)
      .tickFormat(i===5 ? ((d,j)=>xTickLabels[j]) : ""));
  [gL,gR,gT,gB].forEach(g=>{
    g.select(".domain").remove();
    g.selectAll("line").attr("stroke","#333").attr("stroke-width",1);
    g.selectAll("text").attr("font-size",18).attr("fill","#231f20").style("font-family","'Liberation Sans',Arial,sans-serif");
  });
  svg.append("rect").attr("x",L).attr("y",p.top).attr("width",R-L).attr("height",p.bot-p.top)
    .attr("fill","none").attr("stroke","#3a3a3a").attr("stroke-width",1.2);
  svg.append("text").attr("x",108).attr("y",p.top+20).attr("font-size",20).text(p.lab);
  svg.append("text").attr("transform",`translate(22,${(p.top+p.bot)/2}) rotate(-90)`)
    .attr("text-anchor","middle").attr("font-size",18).text(p.title);
});

// precipitation right axis
const gP = svg.append("g").attr("transform",`translate(${R},0)`)
  .call(d3.axisRight(yp).tickValues([20,40,60]).tickSize(0).tickPadding(22).tickFormat(fmt));
gP.select(".domain").remove();
gP.selectAll("text").attr("font-size",18).attr("fill","#231f20");
svg.append("text").attr("transform",`translate(1257,958) rotate(-90)`)
  .attr("text-anchor","middle").attr("font-size",18).text("Precipitations (mm)");

// ---------- legend ----------
const lg = svg.append("g");
lg.append("rect").attr("x",1196).attr("y",424).attr("width",117).attr("height",210)
  .attr("fill","#fff").attr("stroke","#777").attr("stroke-width",1);
SERIES.forEach((s,k)=>{
  const yy = 440 + k*22.6;
  lg.append("line").attr("x1",1207).attr("x2",1257).attr("y1",yy).attr("y2",yy)
    .attr("stroke",COLORS[k]).attr("stroke-width",2.4);
  lg.append("path").attr("d",`M1227,${yy}H1237M1232,${yy-5}V${yy+5}`).attr("stroke",COLORS[k]).attr("stroke-width",2);
  lg.append("text").attr("x",1265).attr("y",yy+4.5).attr("font-size",13).text(s);
});
</script>
</body></html>
